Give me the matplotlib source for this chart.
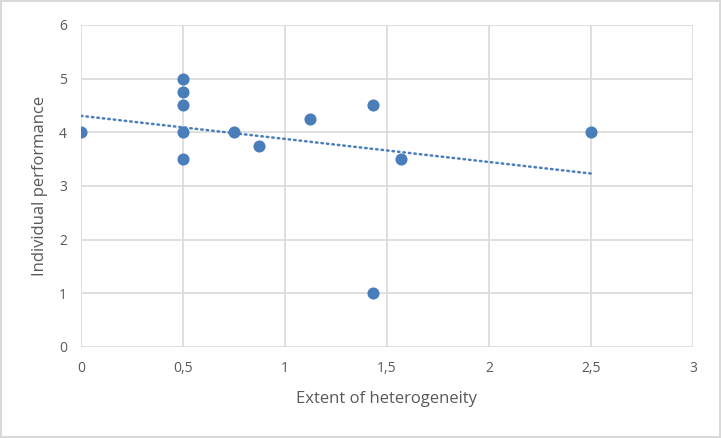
import numpy as np
import matplotlib
matplotlib.use("Agg")
import matplotlib.pyplot as plt
from matplotlib.ticker import FuncFormatter

# data
heterogeneity = [0, 0.5, 0.5, 0.5, 0.5, 0.5, 0.75, 0.875, 1.125, 1.43, 1.43, 1.57, 2.5]
performance = [4, 5, 4.75, 4.5, 4, 3.5, 4, 3.75, 4.25, 4.5, 1, 3.5, 4]

x_ticks = [0, 0.5, 1, 1.5, 2, 2.5, 3]
y_ticks = [0, 1, 2, 3, 4, 5, 6]

blue = "#4a7ebb"
grey_txt = "#595959"
grid_col = "#d9d9d9"

plt.rcParams['font.family'] = ['Open Sans', 'DejaVu Sans']

fig = plt.figure(figsize=(7.21, 4.38), dpi=100)
fig.patch.set_edgecolor(grid_col)
fig.patch.set_linewidth(1.5)
ax = fig.add_axes([0.1123, 0.2078, 0.8488, 0.7352])

ax.scatter(heterogeneity, performance, s=76, color=blue, zorder=3, linewidths=0)

# linear trendline
k, b = np.polyfit(heterogeneity, performance, 1)
xt = np.array([min(heterogeneity), max(heterogeneity)])
ax.plot(xt, k * xt + b, color=blue, lw=1.8, ls=(0, (0.6, 1.6)),
        dash_capstyle="round", zorder=2)

ax.set_xlim(0, 3)
ax.set_ylim(0, 6)
ax.set_xticks(x_ticks)
ax.set_yticks(y_ticks)
ax.xaxis.set_major_formatter(FuncFormatter(lambda v, p: ("%g" % v).replace(".", ",")))
ax.grid(True, color=grid_col, lw=1.2)
ax.set_axisbelow(True)
for s in ax.spines.values():
    s.set_visible(False)
ax.tick_params(length=0, colors=grey_txt, labelsize=10, pad=10)
ax.set_xlabel("Extent of heterogeneity", color=grey_txt, fontsize=12, labelpad=11)
ax.set_ylabel("Individual performance", color=grey_txt, fontsize=12, labelpad=8)

fig.savefig("out.png", dpi=100, edgecolor=fig.get_edgecolor())
